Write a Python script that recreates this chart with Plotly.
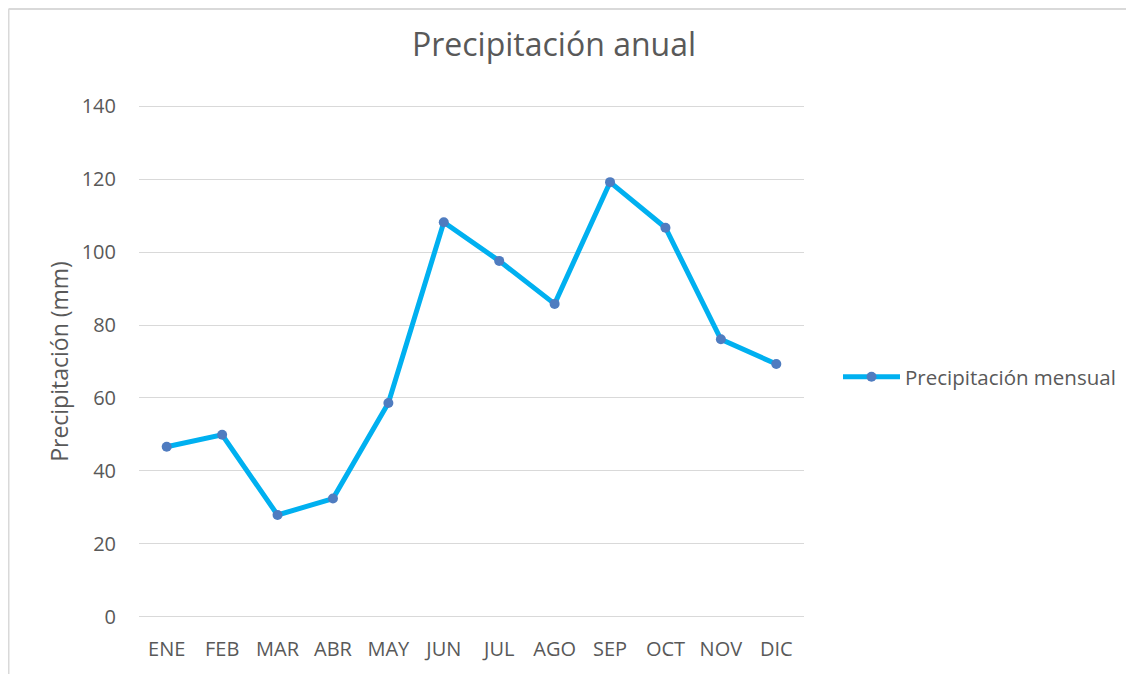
import plotly.graph_objects as go

months = ["ENE", "FEB", "MAR", "ABR", "MAY", "JUN", "JUL", "AGO", "SEP", "OCT", "NOV", "DIC"]
precip = [46.6, 49.9, 27.9, 32.4, 58.6, 108.2, 97.6, 85.8, 119.2, 106.7, 76.1, 69.3]
y_ticks = [0, 20, 40, 60, 80, 100, 120, 140]
series_name = "Precipitación mensual"
title_text = "Precipitación anual"
y_title = "Precipitación (mm)"

W, H = 1134, 674
OFF = 8  # page body margin
PAD = 2  # y-units of padding so edge gridlines render
px_per_unit = 511 / 140
padpx = PAD * px_per_unit
L = 139 - OFF
T = 106 - OFF - padpx
pw = 665
ph = 511 + 2 * padpx
R = W - L - pw
B = H - T - ph

font_family = "'Open Sans', sans-serif"
grey = "#595959"

fig = go.Figure()
fig.add_trace(go.Scatter(
    x=months, y=precip, name=series_name, mode="lines+markers",
    line=dict(color="#00B0F0", width=5),
    marker=dict(color="#4F7CC0", size=10),
))

base_y = 617 + padpx  # page y of paper y=0

fig.update_layout(
    width=W, height=H,
    margin=dict(l=L, r=R, t=T, b=B),
    paper_bgcolor="white", plot_bgcolor="white",
    font=dict(family=font_family, color=grey, size=20),
    title=dict(text=title_text, x=(554 - OFF) / W, xref="container",
               xanchor="center", y=1 - (45 - OFF) / H, yanchor="middle",
               font=dict(size=32, color=grey, family=font_family)),
    showlegend=True,
    legend=dict(x=(838 - 139) / pw, xanchor="left", y=(base_y - 377) / ph, yanchor="middle",
                font=dict(size=20.5, color=grey), bgcolor="rgba(0,0,0,0)",
                itemwidth=57),
    xaxis=dict(showgrid=False, showline=False, zeroline=False,
               ticks="outside", ticklen=7, tickcolor="rgba(0,0,0,0)",
               tickfont=dict(size=20, color=grey), range=[-0.5, 11.5]),
    yaxis=dict(range=[-PAD, 140 + PAD], tickvals=y_ticks,
               showgrid=True, gridcolor="#D9D9D9", gridwidth=1.3,
               zeroline=False, showline=False,
               ticks="outside", ticklen=18, tickcolor="rgba(0,0,0,0)",
               tickfont=dict(size=20, color=grey),
               title=dict(text=y_title, font=dict(size=23, color=grey), standoff=6)),
)

# outer chart-area border (Excel-style)
top_y = (ph + T - 0.5) / ph
left_x = -(L - 0.5) / pw
fig.add_shape(type="line", xref="paper", yref="paper",
              x0=left_x, x1=(W - L) / pw, y0=top_y, y1=top_y,
              line=dict(color="#D9D9D9", width=2))
fig.add_shape(type="line", xref="paper", yref="paper",
              x0=left_x, x1=left_x, y0=top_y, y1=-B / ph,
              line=dict(color="#D9D9D9", width=2))

fig.write_html("out.html")
